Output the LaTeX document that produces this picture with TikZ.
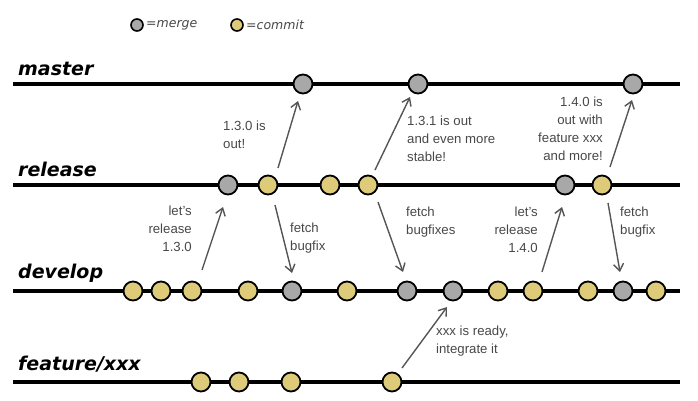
\documentclass[tikz,border=0pt]{standalone}
\usepackage{fontspec}
\setmainfont{Liberation Sans}
\newfontfamily\handfont{DejaVu Sans}
\usetikzlibrary{arrows.meta}
\definecolor{mergegray}{RGB}{168,168,168}
\definecolor{commityel}{RGB}{221,203,122}
\definecolor{txtgray}{RGB}{72,72,72}
\definecolor{arrgray}{RGB}{85,85,85}
\tikzset{
  branchline/.style={line width=4pt},
  cmt/.style={circle,draw=black,line width=1.8pt,fill=commityel,minimum size=19pt,inner sep=0pt},
  mrg/.style={circle,draw=black,line width=1.8pt,fill=mergegray,minimum size=19pt,inner sep=0pt},
  lcmt/.style={circle,draw=black,line width=1.6pt,fill=commityel,minimum size=12pt,inner sep=0pt},
  lmrg/.style={circle,draw=black,line width=1.6pt,fill=mergegray,minimum size=12pt,inner sep=0pt},
  branchname/.style={font=\handfont\bfseries\itshape\fontsize{19}{19}\selectfont,anchor=base west,inner sep=0pt},
  legendtxt/.style={font=\handfont\itshape\fontsize{12.5}{13}\selectfont,text=txtgray,anchor=west,inner sep=0pt},
  note/.style={font=\fontsize{13.2}{18}\selectfont,text=txtgray,inner sep=0pt},
  flow/.style={draw=arrgray,line width=1.4pt,-{Straight Barb[length=7pt,width=10pt,line width=1.4pt]}},
}
\begin{document}
\begin{tikzpicture}[x=1pt,y=-1pt]
\useasboundingbox (0,0) rectangle (698,400);
% legend
\node[lmrg] (lm) at (137,25) {};
\node[legendtxt] (lmt) at (146,25) {=merge};
\node[lcmt] (lc) at (237,25) {};
\node[legendtxt] (lct) at (246,25) {=commit};
% branch names
\node[branchname] (nmaster) at (18,75) {master};
\node[branchname] (nrelease) at (18,176) {release};
\node[branchname] (ndevelop) at (18,278) {develop};
\node[branchname] (nfeature) at (18,370) {feature/xxx};
% branch lines
\coordinate (mS) at (13,84);  \coordinate (mE) at (680,84);
\coordinate (rS) at (13,185); \coordinate (rE) at (680,185);
\coordinate (dS) at (13,291); \coordinate (dE) at (680,291);
\coordinate (fS) at (13,382); \coordinate (fE) at (680,382);
\draw[branchline] (mS) -- (mE);
\draw[branchline] (rS) -- (rE);
\draw[branchline] (dS) -- (dE);
\draw[branchline] (fS) -- (fE);
% master
\node[mrg] (m1) at (303,84) {};
\node[mrg] (m2) at (418,84) {};
\node[mrg] (m3) at (633,84) {};
% release
\node[mrg] (r1) at (228,185) {};
\node[cmt] (r2) at (268,185) {};
\node[cmt] (r3) at (330,185) {};
\node[cmt] (r4) at (368,185) {};
\node[mrg] (r5) at (565,185) {};
\node[cmt] (r6) at (602,185) {};
% develop
\node[cmt] (d1) at (133,291) {};
\node[cmt] (d2) at (161,291) {};
\node[cmt] (d3) at (192,291) {};
\node[cmt] (d4) at (248,291) {};
\node[mrg] (d5) at (292,291) {};
\node[cmt] (d6) at (347,291) {};
\node[mrg] (d7) at (407,291) {};
\node[mrg] (d8) at (453,291) {};
\node[cmt] (d9) at (498,291) {};
\node[cmt] (d10) at (533,291) {};
\node[cmt] (d11) at (588,291) {};
\node[mrg] (d12) at (623,291) {};
\node[cmt] (d13) at (656,291) {};
% feature
\node[cmt] (f1) at (201,382) {};
\node[cmt] (f2) at (239,382) {};
\node[cmt] (f3) at (291,382) {};
\node[cmt] (f4) at (392,382) {};
% arrows
\draw[flow] ([shift={(10,-17)}]r2.center) -- ([shift={(-5,17)}]m1.center);
\draw[flow] ([shift={(7,-15)}]r4.center) -- ([shift={(-8,13)}]m2.center);
\draw[flow] ([shift={(8,-18)}]r6.center) -- ([shift={(-1,16)}]m3.center);
\draw[flow] ([shift={(10,-21)}]d3.center) -- ([shift={(-5,22)}]r1.center);
\draw[flow] ([shift={(7,20)}]r2.center) -- ([shift={(0,-18)}]d5.center);
\draw[flow] ([shift={(10,17)}]r4.center) -- ([shift={(-4,-19)}]d7.center);
\draw[flow] ([shift={(9,-19)}]d10.center) -- ([shift={(-3,22)}]r5.center);
\draw[flow] ([shift={(6,18)}]r6.center) -- ([shift={(-3,-19)}]d12.center);
\draw[flow] ([shift={(10,-14)}]f4.center) -- ([shift={(-6,16)}]d8.center);
% notes
\node[note,anchor=north west,align=left] (t1) at (223,121) {1.3.0 is\\out!};
\node[note,anchor=north west,align=left] (t2) at (407,116) {1.3.1 is out\\and even more\\stable!};
\node[note,anchor=north east,align=right] (t3) at (603,97) {1.4.0 is\\out with\\feature xxx\\and more!};
\node[note,anchor=north east,align=right] (t4) at (192,206) {let's\\release\\1.3.0};
\node[note,anchor=north west,align=left] (t5) at (290,223) {fetch\\bugfix};
\node[note,anchor=north west,align=left] (t6) at (406,207) {fetch\\bugfixes};
\node[note,anchor=north east,align=right] (t7) at (538,207) {let's\\release\\1.4.0};
\node[note,anchor=north west,align=left] (t8) at (620,207) {fetch\\bugfix};
\node[note,anchor=north west,align=left] (t9) at (436,326) {xxx is ready,\\integrate it};
\end{tikzpicture}
\end{document}
